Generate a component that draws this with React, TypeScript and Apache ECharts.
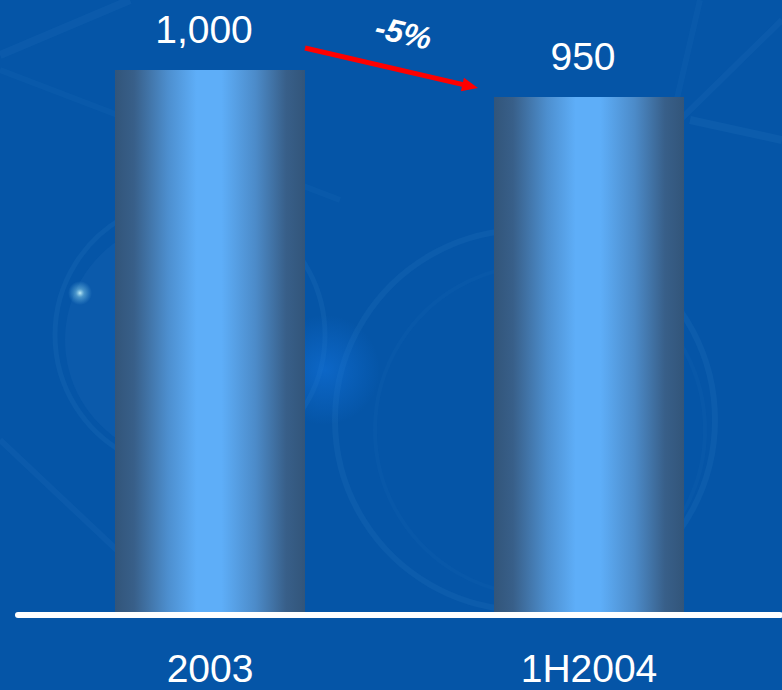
import React, { useEffect, useRef } from "react";
import * as echarts from "echarts";

const categories = ["2003", "1H2004"];
const values = [1000, 950];
const changeLabel = "-5%";

const FONT = "'Liberation Sans', Arial, sans-serif";

export default function App() {
  const ref = useRef<HTMLDivElement>(null);
  useEffect(() => {
    document.body.style.margin = "0";
    const chart = echarts.init(ref.current!, undefined, { renderer: "svg" });
    const barGradient = new echarts.graphic.LinearGradient(0, 0, 1, 0, [
      { offset: 0, color: "#32557a" },
      { offset: 0.1, color: "#385f89" },
      { offset: 0.28, color: "#4d8fcf" },
      { offset: 0.43, color: "#5eaef8" },
      { offset: 0.56, color: "#5eaef8" },
      { offset: 0.74, color: "#4c8bc9" },
      { offset: 0.9, color: "#385f89" },
      { offset: 1, color: "#32557a" },
    ]);
    const ringStyle = (o: number, w: number) => ({
      fill: "none",
      stroke: `rgba(140,200,255,${o})`,
      lineWidth: w,
    });
    const glow = new echarts.graphic.RadialGradient(0.5, 0.5, 0.5, [
      { offset: 0, color: "rgba(210,250,255,0.9)" },
      { offset: 0.35, color: "rgba(150,220,240,0.45)" },
      { offset: 1, color: "rgba(120,200,240,0)" },
    ]);
    const blob = new echarts.graphic.RadialGradient(0.5, 0.5, 0.5, [
      { offset: 0, color: "rgba(20,120,230,0.5)" },
      { offset: 1, color: "rgba(20,120,230,0)" },
    ]);
    const bgGraphics: any[] = [
      { type: "circle", z: -10, shape: { cx: 190, cy: 335, r: 135 }, style: ringStyle(0.06, 5) },
      { type: "circle", z: -10, shape: { cx: 185, cy: 340, r: 120 }, style: { fill: "rgba(120,170,240,0.06)" } },
      { type: "circle", z: -10, shape: { cx: 525, cy: 420, r: 190 }, style: ringStyle(0.06, 6) },
      { type: "circle", z: -10, shape: { cx: 540, cy: 430, r: 165 }, style: ringStyle(0.03, 4) },
      { type: "circle", z: -10, shape: { cx: 80, cy: 293, r: 12 }, style: { fill: glow } },
      { type: "circle", z: -10, shape: { cx: 325, cy: 370, r: 55 }, style: { fill: blob } },
      { type: "line", z: -10, shape: { x1: 0, y1: 55, x2: 130, y2: 0 }, style: { stroke: "rgba(140,200,255,0.05)", lineWidth: 8 } },
      { type: "line", z: -10, shape: { x1: 0, y1: 70, x2: 340, y2: 200 }, style: { stroke: "rgba(140,200,255,0.04)", lineWidth: 6 } },
      { type: "line", z: -10, shape: { x1: 0, y1: 440, x2: 170, y2: 600 }, style: { stroke: "rgba(140,200,255,0.05)", lineWidth: 6 } },
      { type: "line", z: -10, shape: { x1: 700, y1: 0, x2: 560, y2: 600 }, style: { stroke: "rgba(140,200,255,0.035)", lineWidth: 6 } },
      { type: "line", z: -10, shape: { x1: 782, y1: 20, x2: 680, y2: 120 }, style: { stroke: "rgba(140,200,255,0.05)", lineWidth: 6 } },
      { type: "line", z: -10, shape: { x1: 690, y1: 120, x2: 782, y2: 140 }, style: { stroke: "rgba(140,200,255,0.06)", lineWidth: 8 } },
      { type: "line", z: 5, shape: { x1: 18, y1: 615, x2: 780, y2: 615 }, style: { stroke: "#ffffff", lineWidth: 6, lineCap: "round" } },
    ];
    chart.setOption({
      animation: false,
      backgroundColor: "#0555a7",
      grid: { left: 20.5, right: 3.5, top: 70, bottom: 78 },
      xAxis: {
        type: "category",
        data: categories,
        axisLine: { show: false },
        axisTick: { show: false },
        axisLabel: { color: "#ffffff", fontSize: 39, lineHeight: 34, fontFamily: FONT, margin: 39 },
      },
      yAxis: { type: "value", min: 0, max: 1000, show: false },
      series: [
        {
          type: "bar",
          data: values,
          barWidth: 190,
          itemStyle: { color: barGradient },
          label: {
            show: true,
            position: "top",
            distance: 21,
            offset: [-6, 0],
            color: "#ffffff",
            fontSize: 39,
            fontFamily: FONT,
            formatter: (p: any) => Number(p.value).toLocaleString("en-US"),
          },
        },
      ],
      graphic: bgGraphics,
    });

    const p1 = chart.convertToPixel({ seriesIndex: 0 }, [0, values[0]]) as number[];
    const p2 = chart.convertToPixel({ seriesIndex: 0 }, [1, values[1]]) as number[];
    const sx = p1[0] + 95, sy = p1[1] - 22;
    const ex = p2[0] - 111, ey = p2[1] - 9;
    const dx = ex - sx, dy = ey - sy;
    const len = Math.sqrt(dx * dx + dy * dy);
    const ux = dx / len, uy = dy / len;
    const hl = 16, hw = 7;
    const bx = ex - ux * hl, by = ey - uy * hl;
    chart.setOption({
      graphic: [
        ...bgGraphics,
        { type: "line", z: 10, shape: { x1: sx, y1: sy, x2: bx + ux * 2, y2: by + uy * 2 }, style: { stroke: "#ff0000", lineWidth: 5 } },
        {
          type: "polygon",
          z: 10,
          shape: { points: [[ex, ey], [bx - uy * hw, by + ux * hw], [bx + uy * hw, by - ux * hw]] },
          style: { fill: "#ff0000" },
        },
        {
          type: "text",
          z: 10,
          x: (sx + ex) / 2 + 12,
          y: 33,
          rotation: -0.22,
          style: {
            text: changeLabel,
            fill: "#ffffff",
            font: `italic bold 32px ${FONT}`,
            align: "center",
            verticalAlign: "middle",
          },
        },
      ],
    });
    return () => chart.dispose();
  }, []);
  return <div ref={ref} style={{ width: 782, height: 690 }} />;
}
